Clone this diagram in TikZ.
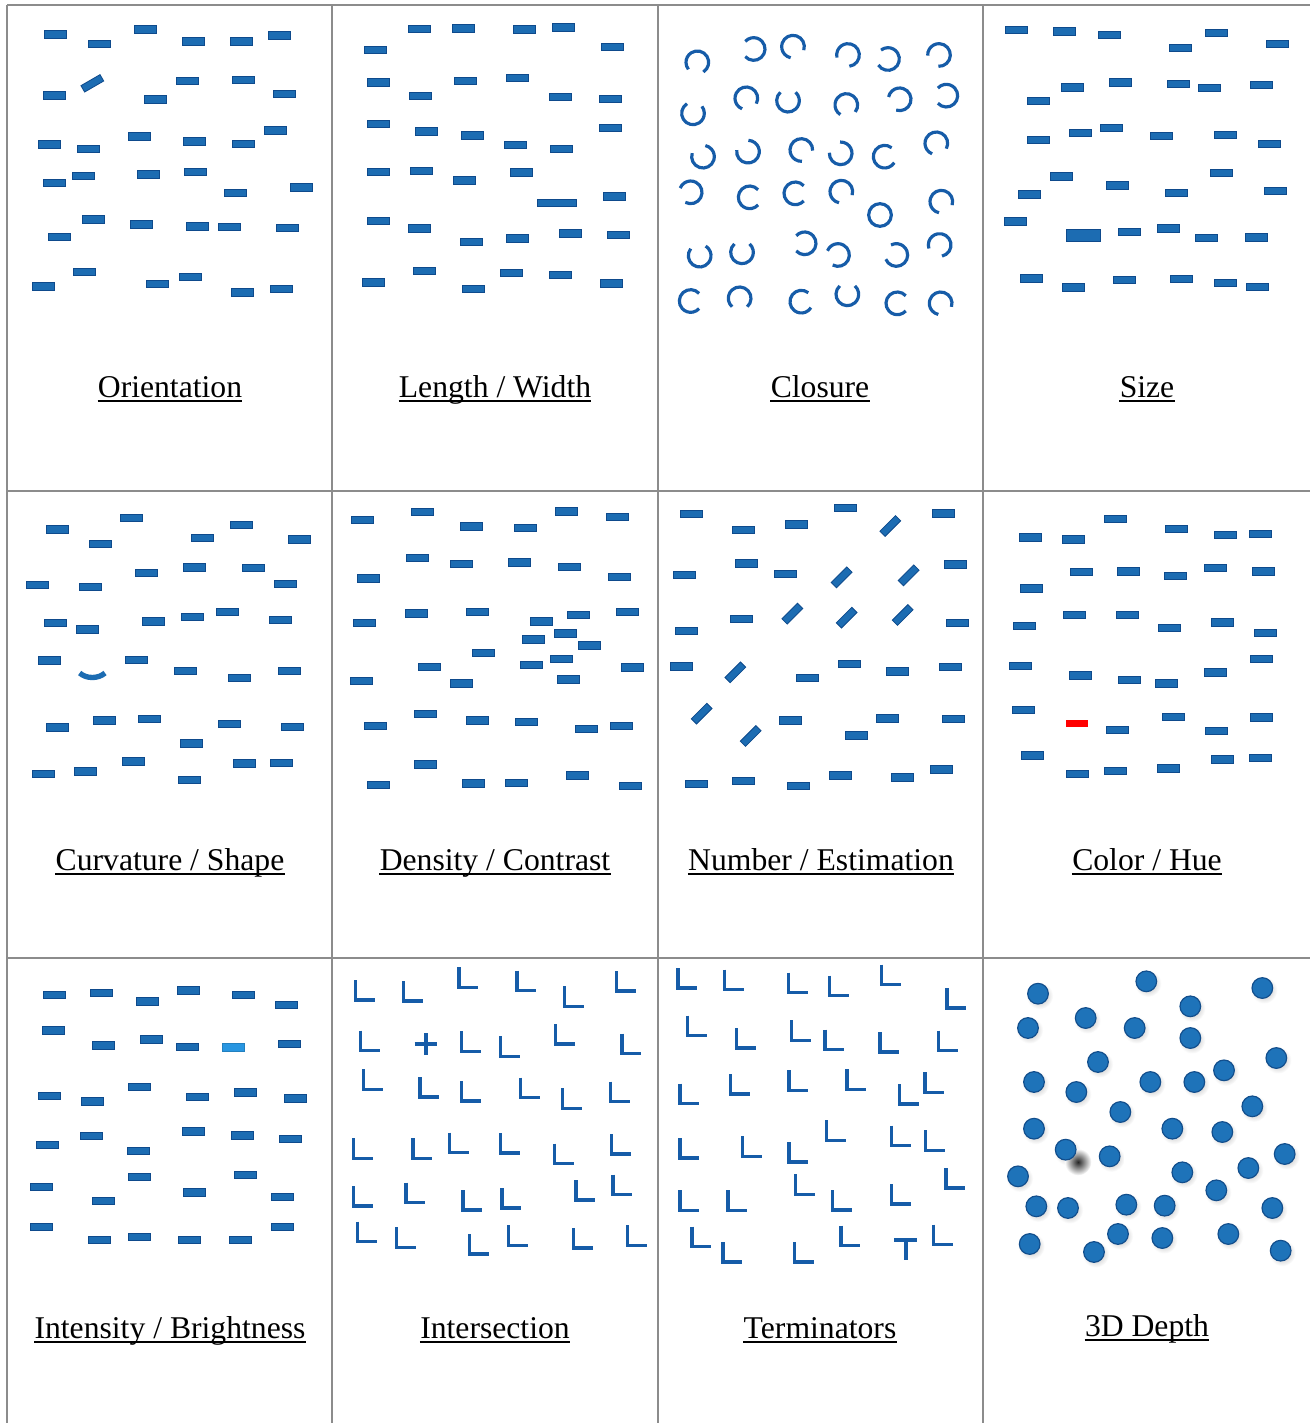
\documentclass[tikz,border=0pt]{standalone}
\usepackage{fontspec}
\setmainfont{Liberation Serif}
\definecolor{barblue}{RGB}{28,108,178}
\definecolor{baredge}{RGB}{14,74,140}
\definecolor{lightbarc}{RGB}{40,150,225}
\definecolor{gridgray}{RGB}{140,140,140}
\definecolor{lblue}{RGB}{22,92,168}
\definecolor{dotblue}{RGB}{30,115,185}
\definecolor{dotedge}{RGB}{18,78,140}
\tikzset{
  bar/.pic={\filldraw[fill=barblue,draw=baredge,line width=0.5pt] (-33,-11) rectangle (33,11);},
  lightbar/.pic={\filldraw[fill=lightbarc,draw=lightbarc!85!black,line width=0.4pt] (-33,-11) rectangle (33,11);},
  redbar/.pic={\fill[red] (-33,-11) rectangle (33,11);},
  longbar/.pic={\filldraw[fill=barblue,draw=baredge,line width=0.5pt] (-59,-11) rectangle (59,11);},
  bigbar/.pic={\filldraw[fill=barblue,draw=baredge,line width=0.5pt] (-50,-18) rectangle (50,18);},
}
\begin{document}
\begin{tikzpicture}[x=0.6pt,y=-0.6pt,
  cell/.style 2 args={xshift=#1*0.6pt,yshift=-#2*0.6pt,x=0.2pt,y=-0.2pt},
  gridline/.style={draw=gridgray,line width=0.9pt},
  lab/.style={anchor=base,inner sep=0pt,font=\fontsize{19}{22}\selectfont},
  uline/.style={line width=0.9pt},
  arcst/.style={draw=lblue,line width=1.9pt},
  lst/.style={draw=lblue,line width=2pt,line join=miter},
]
\useasboundingbox[fill=white] (0,0) rectangle (1310,1423);
% grid
\draw[gridline] (7,5) -- (1310,5);
\draw[gridline] (7,491) -- (1310,491);
\draw[gridline] (7,958) -- (1310,958);
\foreach \gx in {7,332,658,983} \draw[gridline] (\gx,5) -- (\gx,1423);

% 1 Orientation
\begin{scope}[cell={7}{5}]
\foreach \a/\b in {144/88,276/116,416/73,559/109,703/109,817/91,
 141/271,446/283,541/227,709/225,833/266,
 128/418,243/432,397/394,563/409,709/417,806/376,
 141/533,230/513,425/508,566/501,686/563,884/547,
 157/696,259/643,403/658,571/664,668/665,842/668,
 109/844,232/800,451/837,549/816,706/862,824/851}
 \pic at (\a,\b) {bar};
\pic[rotate=30] at (256,235) {bar};
\end{scope}

% 2 Length / Width
\begin{scope}[cell={332}{5}]
\foreach \a/\b in {262/71,394/70,578/73,694/67,129/134,840/126,
 140/232,400/228,556/218,265/273,684/276,836/282,
 138/357,284/379,422/391,549/420,688/431,836/368,
 138/501,267/498,398/526,568/502,848/574,
 138/648,262/670,417/711,556/700,716/685,860/690,
 124/832,276/798,423/851,538/803,684/809,838/835}
 \pic at (\a,\b) {bar};
\pic at (675,593) {longbar};
\end{scope}

% 3 Closure
\begin{scope}[cell={658}{5}]
\foreach \a/\b/\g in {118/172/260,287/132/180,405/125/300,570/150/235,690/162/170,843/150/225,
 105/325/80,265/280/290,390/287/90,565/300/280,725/283/210,865/272/180,
 135/455/120,270/440/130,430/435/315,548/445/135,680/455/10,835/415/290,
 98/562/200,275/577/0,412/565/0,550/560/300,850/590/300,
 125/752/100,252/742/90,440/715/180,540/750/200,715/750/160,845/720/240,
 98/888/0,245/880/270,430/890/10,568/868/90,718/895/0,848/895/300}
 \draw[arcst] (\a,\b) ++({\g+42}:6.8pt) arc[start angle=\g+42, end angle=\g+318, radius=6.8pt];
\draw[arcst] (666,630) circle (6.8pt);
\end{scope}

% 4 Size
\begin{scope}[cell={983}{5}]
\foreach \a/\b in {101/75,245/79,380/89,591/129,699/83,882/117,
 166/287,268/247,413/232,586/237,680/249,836/240,
 167/404,291/384,384/369,535/392,726/390,860/416,
 140/568,235/514,402/541,581/563,715/504,878/557,
 96/649,440/680,556/670,670/699,820/697,
 145/820,270/847,425/824,596/821,727/834,823/845}
 \pic at (\a,\b) {bar};
\pic at (301,690) {bigbar};
\end{scope}

% 5 Curvature / Shape
\begin{scope}[cell={7}{491}]
\foreach \a/\b in {152/115,279/159,374/80,587/140,704/101,876/145,
 90/282,251/288,417/245,561/229,739/231,835/279,
 145/395,241/415,440/391,556/378,661/363,820/387,
 126/508,387/507,536/539,698/560,848/539,
 150/709,293/688,427/683,553/757,667/698,856/707,
 110/849,236/841,378/811,547/866,713/817,822/816}
 \pic at (\a,\b) {bar};
\draw[barblue,line width=3.2pt] (218,546) .. controls (238,564) and (274,564) .. (294,546);
\end{scope}

% 6 Density / Contrast
\begin{scope}[cell={332}{491}]
\foreach \a/\b in {92/87,270/62,418/106,580/111,703/61,855/78,
 110/262,256/200,387/218,562/214,712/227,862/257,
 97/395,253/367,435/363,629/391,738/372,886/362,
 603/445,701/427,773/463,453/485,689/503,599/521,293/528,901/529,
 87/570,387/577,708/565,
 130/704,280/669,435/688,582/692,762/714,868/705,
 140/881,280/820,424/877,552/876,737/853,894/885}
 \pic at (\a,\b) {bar};
\end{scope}

% 7 Number / Estimation
\begin{scope}[cell={658}{491}]
\foreach \a/\b in {99/68,255/117,415/100,562/50,855/67,
 79/251,266/217,383/248,891/220,
 85/419,249/384,897/396,
 70/526,449/560,573/518,718/541,876/527,
 397/688,596/733,689/682,885/684,
 115/879,256/869,421/884,548/853,732/859,851/835}
 \pic at (\a,\b) {bar};
\foreach \a/\b in {697/105,551/259,752/253,403/368,566/380,734/372,232/544,131/668,278/735}
 \pic[rotate=45] at (\a,\b) {bar};
\end{scope}

% 8 Color / Hue
\begin{scope}[cell={983}{491}]
\foreach \a/\b in {143/139,271/145,398/83,579/114,727/132,833/128,
 294/243,436/241,577/254,697/231,842/241,145/292,
 123/404,273/372,434/371,560/410,719/394,848/426,
 111/524,292/553,440/567,550/577,697/544,836/504,
 121/657,402/716,572/677,701/720,834/679,
 149/793,284/848,398/839,555/832,717/805,831/800}
 \pic at (\a,\b) {bar};
\pic at (283,697) {redbar};
\end{scope}

% 9 Intensity / Brightness
\begin{scope}[cell={7}{958}]
\foreach \a/\b in {143/111,282/104,422/130,545/97,710/110,839/141,
 139/217,288/262,432/244,542/267,848/258,
 128/414,255/430,397/386,570/416,716/403,864/421,
 121/560,254/534,395/579,560/520,707/532,849/543,
 104/686,289/728,396/657,561/703,715/650,825/716,
 104/807,276/845,398/837,548/845,700/846,825/807}
 \pic at (\a,\b) {bar};
\pic at (680,268) {lightbar};
\end{scope}

% 10 Intersection
\begin{scope}[cell={332}{958}]
\foreach \a/\b in {70/126,215/129,381/88,555/98,697/145,853/99,
 86/278,388/280,505/295,671/258,870/287,
 95/394,264/417,388/429,566/419,691/451,835/431,
 64/601,243/601,352/584,505/585,667/617,838/588,
 64/744,222/734,393/756,510/750,732/726,843/710,
 77/851,193/868,413/888,529/862,724/870,887/862}
 \draw[lst] (\a,\b) ++(0,-60) -- ++(0,60) -- ++(58,0);
\draw[lst,line width=2.2pt] (248,257) -- (316,257) (282,225) -- (282,290);
\end{scope}

% 11 Terminators
\begin{scope}[cell={658}{958}]
\foreach \a/\b in {60/90,200/95,392/104,515/113,670/80,867/150,
 88/233,235/270,400/247,501/275,666/282,842/278,
 66/437,218/408,393/397,567/394,724/438,801/403,
 66/600,253/595,393/612,505/547,700/563,802/577,
 66/757,210/757,412/709,523/756,700/738,864/690,
 102/866,195/912,410/912,549/863,827/860}
 \draw[lst] (\a,\b) ++(0,-60) -- ++(0,60) -- ++(58,0);
\draw[lst,line width=2.4pt] (708,845) -- (778,845) (743,845) -- (743,905);
\end{scope}

% 12 3D Depth
\begin{scope}[cell={983}{958}]
\foreach \a/\b in {165/107,490/70,838/90,622/145,308/180,135/210,455/210,622/240,
 345/312,880/300,723/337,153/372,280/402,502/372,634/372,412/462,808/445,
 153/512,568/512,718/522,248/575,380/595,905/588,105/655,598/643,796/630,
 700/697,160/745,255/750,430/740,545/743,868/750,140/858,333/882,405/828,
 538/840,736/828,893/878}
 \shade[inner color=black!30, outer color=white] (\a,\b) ++(1pt,-1.3pt) circle (8pt);
\shade[inner color=black!85, outer color=white] (285,612) circle (8pt);
\foreach \a/\b in {165/107,490/70,838/90,622/145,308/180,135/210,455/210,622/240,
 345/312,880/300,723/337,153/372,280/402,502/372,634/372,412/462,808/445,
 153/512,568/512,718/522,248/575,380/595,905/588,105/655,598/643,796/630,
 700/697,160/745,255/750,430/740,545/743,868/750,140/858,333/882,405/828,
 538/840,736/828,893/878}
 \filldraw[fill=dotblue,draw=dotedge,line width=0.7pt] (\a,\b) circle (6.2pt);
\end{scope}

% labels
\node[lab] (l1) at (170,397) {Orientation};
\node[lab] (l2) at (495,397) {Length / Width};
\node[lab] (l3) at (820,397) {Closure};
\node[lab] (l4) at (1147,397) {Size};
\node[lab] (l5) at (170,870) {Curvature / Shape};
\node[lab] (l6) at (495,870) {Density / Contrast};
\node[lab] (l7) at (821,870) {Number / Estimation};
\node[lab] (l8) at (1147,870) {Color / Hue};
\node[lab] (l9) at (170,1338) {Intensity / Brightness};
\node[lab] (l10) at (495,1338) {Intersection};
\node[lab] (l11) at (820,1338) {Terminators};
\node[lab] (l12) at (1147,1336) {3D Depth};
\foreach \n in {l1,l2,l3,l4,l5,l6,l7,l8,l9,l10,l11,l12}
 \draw[uline] ([yshift=-2.4pt]\n.base west) -- ([yshift=-2.4pt]\n.base east);
\end{tikzpicture}
\end{document}
